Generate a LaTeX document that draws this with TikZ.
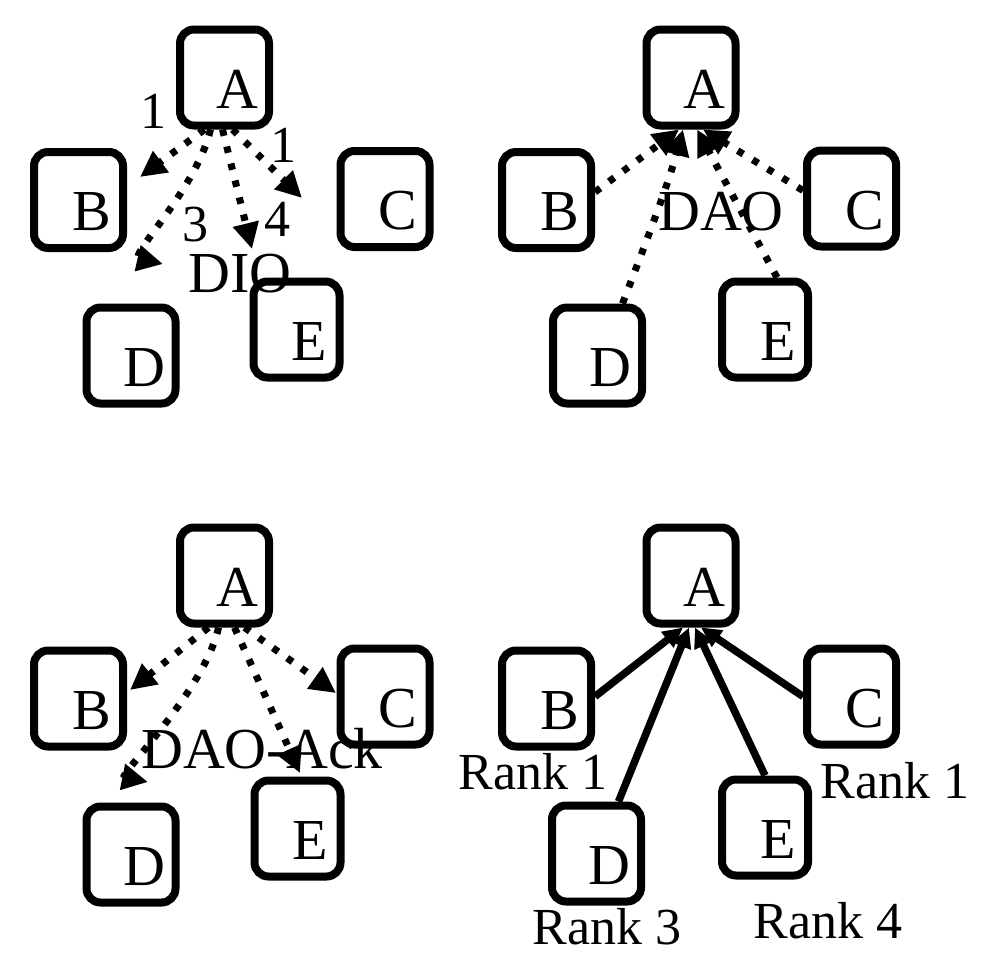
\documentclass[tikz,border=0pt]{standalone}
\usepackage{fontspec}
\setmainfont{Liberation Serif}
\usetikzlibrary{arrows.meta,calc}
\begin{document}
\begin{tikzpicture}[x=1pt,y=-1pt,
  box/.style={draw, line width=8pt, rounded corners=14pt, minimum width=89pt,
              minimum height=96pt, inner sep=0pt, fill=white},
  boxtext/.style={font=\fontsize{58}{58}\selectfont, inner sep=0pt},
  msg/.style={font=\fontsize{58}{58}\selectfont, inner sep=0pt},
  numlabel/.style={font=\fontsize{52}{52}\selectfont, inner sep=0pt},
  dotline/.style={line width=7pt, dash pattern=on 6.5pt off 11pt},
  dotarrow/.style={-{Triangle[length=26pt,width=25pt]}},
  solidlink/.style={line width=7.5pt, -{Triangle[length=20pt,width=19pt]}},
]
\useasboundingbox (0,0) rectangle (1000,964);

% a box with its letter set low and to the right
\newcommand\nodebox[5][]{%
  \node[box,#1] (#2) at (#3,#4) {};
  \node[boxtext] (#2t) at ($(#2)+(13,12)$) {#5};
}

% ---------- DIO ----------
\nodebox{a1}{224.5}{77.5}{A}
\nodebox{b1}{78.5}{200}{B}
\nodebox{c1}{385}{199}{C}
\nodebox{d1}{131}{355.5}{D}
\nodebox[minimum width=86pt]{e1}{296.5}{329.5}{E}

\node[numlabel] (n1b) at (153,111) {1};
\node[numlabel] (n1c) at (283,145) {1};
\node[numlabel] (n1d) at (195,225) {3};
\node[numlabel] (n1e) at (277,219) {4};
\node[msg] (dio) at (240,274) {DIO};

\coordinate (b1end) at (140,177);
\coordinate (c1end) at (302,198);
\coordinate (d1end) at (163,264);
\coordinate (e1end) at (252,249);

\draw[dotline,dotarrow] ([xshift=-20pt]a1.south) -- (b1end);
\draw[dotline,dotarrow] ([xshift=8pt]a1.south) -- (c1end);
\draw[dotline,dotarrow] ([xshift=-14pt]a1.south) .. controls (196,190) and (128,256) .. (d1end);
\draw[dotline,dotarrow] ([xshift=-2pt]a1.south) -- (e1end);

% ---------- DAO ----------
\nodebox{a2}{691}{77.5}{A}
\nodebox{b2}{546.5}{200}{B}
\nodebox{c2}{851.5}{198.5}{C}
\nodebox{d2}{597.5}{355.5}{D}
\nodebox[minimum width=86pt]{e2}{765}{329.5}{E}

\node[msg] (dao) at (721,212) {DAO};

\draw[dotline,dotarrow] ([yshift=8pt]b2.east) -- ([xshift=-12pt]a2.south);
\draw[dotline,dotarrow] ([yshift=8pt]c2.west) -- ([xshift=12pt]a2.south);
\draw[dotline,dotarrow] ([xshift=25pt]d2.north) .. controls (645,245) and (668,185) .. ([xshift=-8pt]a2.south);
\draw[dotline,dotarrow] ([xshift=12pt]e2.north) -- ([xshift=6pt]a2.south);

% ---------- DAO-Ack ----------
\nodebox{a3}{224.5}{575.5}{A}
\nodebox{b3}{78.5}{698.5}{B}
\nodebox{c3}{385}{696.5}{C}
\nodebox{d3}{131}{854.5}{D}
\nodebox[minimum width=86pt]{e3}{297.5}{828.5}{E}

\node[msg] (daoack) at (262,749) {DAO-Ack};

\coordinate (b3end) at (130,690);
\coordinate (c3end) at (336,693);
\coordinate (d3end) at (148,782);
\coordinate (e3end) at (300,773);

\draw[dotline,dotarrow] ([xshift=-16pt]a3.south) -- (b3end);
\draw[dotline,dotarrow] ([xshift=20pt]a3.south) -- (c3end);
\draw[dotline,dotarrow] ([xshift=-6pt]a3.south) .. controls (205,690) and (118,776) .. (d3end);
\draw[dotline,dotarrow] ([xshift=10pt]a3.south) -- (e3end);

% ---------- resulting ranks ----------
\nodebox{a4}{691}{575.5}{A}
\nodebox{b4}{546.5}{698.5}{B}
\nodebox{c4}{851.5}{696.5}{C}
\nodebox{d4}{596.5}{853.5}{D}
\nodebox[minimum width=86pt]{e4}{765}{827.5}{E}

\node[numlabel] (rb) at (533,772) {Rank 1};
\node[numlabel] (rc) at (895,781) {Rank 1};
\node[numlabel] (rd) at (607,927) {Rank 3};
\node[numlabel] (re) at (828,921) {Rank 4};

\draw[solidlink] ([yshift=2pt]b4.east) -- ([xshift=-8pt]a4.south);
\draw[solidlink] (c4.west) -- ([xshift=10pt]a4.south);
\draw[solidlink] ([xshift=22pt]d4.north) -- ([xshift=-2pt]a4.south);
\draw[solidlink] (e4.north) -- ([xshift=4pt]a4.south);

\end{tikzpicture}
\end{document}
